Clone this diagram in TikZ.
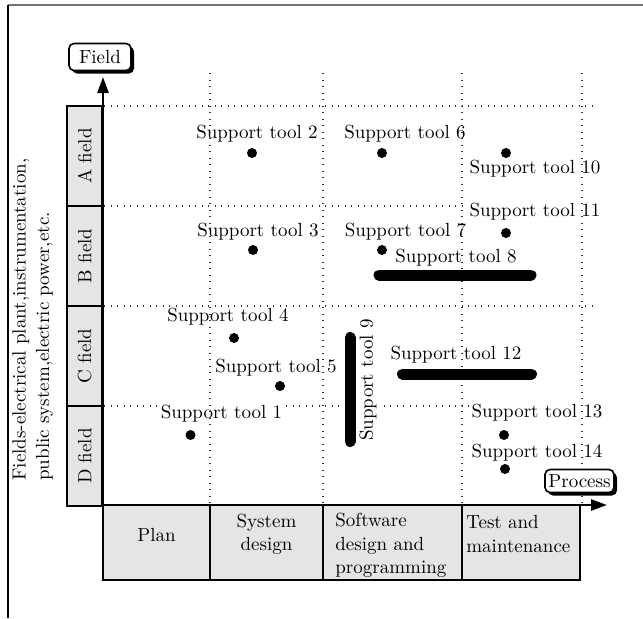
\documentclass[tikz,border=0pt]{standalone}
\usetikzlibrary{arrows.meta,shadows}
\begin{document}
\begin{tikzpicture}[x=0.5pt,y=-0.5pt,
  font=\fontsize{9.5}{11.75}\selectfont,
  gridline/.style={line width=0.65pt, black!80, dash pattern=on 0.55pt off 2.7pt},
  cell/.style={draw, line width=1.3pt, fill=black!10, inner sep=0pt},
  dot/.style={circle, fill=black, inner sep=0pt, minimum size=5pt},
  lbl/.style={inner sep=0.6pt, fill=white},
  bar/.style={line width=5.5pt, line cap=round},
  tag/.style={draw, rounded corners=2.5pt, fill=white, line width=0.8pt, inner sep=1pt,
    drop shadow={shadow xshift=1.5pt, shadow yshift=-1.5pt, fill=black, opacity=1}},
  axis/.style={line width=1.3pt, -{Triangle[length=8pt,width=5.5pt]}}
]
\useasboundingbox (0,0) rectangle (643,618);
% frame
\draw[black!55, line width=0.9pt] (8,5) -- (643,5);
\draw[line width=0.7pt] (8,5) -- (8,618);

% horizontal grid
\foreach \yy in {106,206,306,406} \draw[gridline] (104,\yy) -- (597,\yy);

% labels (filled, above horizontal grid)
\node[lbl] (l2) at (257,134) {Support tool 2};
\node[lbl] (l3) at (258,232) {Support tool 3};
\node[lbl] (l6) at (405,134) {Support tool 6};
\node[lbl] (l7) at (405.5,232) {Support tool 7};
\node[lbl] (l10) at (535,169) {Support tool 10};
\node[lbl] (l11) at (535,212) {Support tool 11};
\node[lbl] (l8) at (456,258) {Support tool 8};
\node[lbl] (l4) at (228,317) {Support tool 4};
\node[lbl] (l5) at (276,368) {Support tool 5};
\node[lbl] (l1) at (221.5,414) {Support tool 1};
\node[lbl] (l12) at (456,355) {Support tool 12};
\node[lbl] (l13) at (537,413) {Support tool 13};
\node[lbl] (l14) at (537,453) {Support tool 14};
\node[lbl, rotate=90] (l9) at (368,380) {Support tool 9};

% vertical grid
\foreach \xx in {210,323,462,582} \draw[gridline] (\xx,73) -- (\xx,504);

% dots
\node[dot] (d2) at (252,153) {};
\node[dot] (d3) at (253,250) {};
\node[dot] (d6) at (382,153) {};
\node[dot] (d7) at (382,250) {};
\node[dot] (d10) at (506,153) {};
\node[dot] (d11) at (506,233) {};
\node[dot] (d4) at (234,338) {};
\node[dot] (d5) at (280,386) {};
\node[dot] (d1) at (190.5,435) {};
\node[dot] (d13) at (504,435) {};
\node[dot] (d14) at (505,469) {};

% bars
\coordinate (b8a) at (379,275); \coordinate (b8b) at (531,275);
\coordinate (b12a) at (402.5,374); \coordinate (b12b) at (531.5,374);
\coordinate (b9a) at (350,337.5); \coordinate (b9b) at (350,441.5);
\draw[bar] (b8a) -- (b8b);
\draw[bar] (b12a) -- (b12b);
\draw[bar] (b9a) -- (b9b);

% left field column
\node[cell, rotate=90, minimum width=50pt, minimum height=17.75pt] (fa) at (84.75,156) {A field};
\node[cell, rotate=90, minimum width=50pt, minimum height=17.75pt] (fb) at (84.75,256) {B field};
\node[cell, rotate=90, minimum width=50pt, minimum height=17.75pt] (fc) at (84.75,356) {C field};
\node[cell, rotate=90, minimum width=50pt, minimum height=17.75pt] (fd) at (84.75,456) {D field};

% bottom process row
\node[cell, minimum width=53.5pt, minimum height=37.5pt] (p1) at (156.5,542.5) {};
\node[cell, minimum width=56.5pt, minimum height=37.5pt] (p2) at (266.5,542.5) {};
\node[cell, minimum width=69.5pt, minimum height=37.5pt] (p3) at (392.5,542.5) {};
\node[cell, minimum width=59pt, minimum height=37.5pt] (p4) at (521,542.5) {};
\node (t1) at (156.5,535) {Plan};
\node[align=center] (t2) at (266.5,534) {System\\design};
\node[align=left, anchor=west, inner sep=0pt] (t3) at (335,545.5) {Software\\design and\\programming};
\node[align=left, anchor=west, inner sep=0pt] (t4) at (466,534) {Test and\\maintenance};

% axes
\coordinate (O) at (103,505);
\coordinate (ytip) at (103,77);
\coordinate (xtip) at (607,505);
\draw[axis] (O) -- (ytip);
\draw[axis] (O) -- (xtip);

% axis tags
\node[tag, minimum width=31pt, minimum height=13.5pt] (field) at (100,57) {Field};
\node[tag, minimum width=34.5pt, minimum height=11.5pt] (process) at (579.5,481) {Process};

% side description
\node[rotate=90, anchor=north west, align=left, inner sep=0pt] (desc) at (12,481)
  {Fields-electrical plant,instrumentation,\\public system,electric power,etc.};
\end{tikzpicture}
\end{document}
